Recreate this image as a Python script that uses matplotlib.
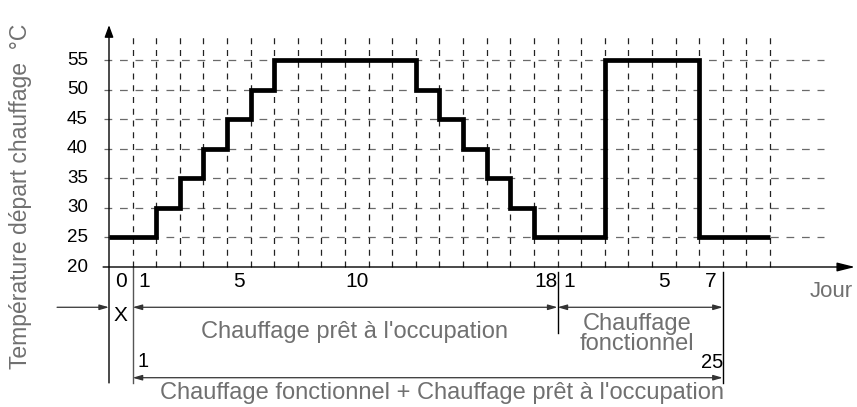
import numpy as np
import matplotlib.pyplot as plt

plt.rcParams["font.family"] = ["Liberation Sans", "DejaVu Sans"]

# température départ par palier : bornes des paliers (en cases de jour) et consigne
step_edges = [0, 2, 3, 4, 5, 6, 7, 13, 14, 15, 16, 17, 18, 21, 25, 28]
step_temps = [25, 30, 35, 40, 45, 50, 55, 50, 45, 40, 35, 30, 25, 55, 25]

temp_ticks = [20, 25, 30, 35, 40, 45, 50, 55]
grid_temps = [25, 30, 35, 40, 45, 50, 55]
grid_days = np.arange(1, 29)

# jours numérotés sous l'axe
ready_days = [1, 5, 10, 18]      # chauffage prêt à l'occupation (18 jours)
func_days = [1, 5, 7]            # chauffage fonctionnel (7 jours)

# limites des phases sur l'axe des jours
x_end = 1
ready_end = x_end + 18
func_end = ready_end + 7

gray = "#707070"

fig = plt.figure(figsize=(8.57, 4.07), dpi=100)
ax = fig.add_axes([0, 0, 1, 1])
# 1 jour = 23.6 px, 1 °C = 5.91 px, origine (0, 20) à 109 px / 267 px
ax.set_xlim(-109 / 23.607, (857 - 109) / 23.607)
ax.set_ylim(20 - (407 - 267) / 5.914, 20 + 267 / 5.914)
ax.axis("off")

# quadrillage pointillé
for t in grid_temps:
    ax.plot([-0.2, 30.3], [t, t], color="#6a6a6a", lw=0.9, dashes=(6.2, 6.2), zorder=1)
for d in grid_days:
    ax.plot([d, d], [20, 59.7], color="#222222", lw=0.9, dashes=(4.8, 4.6), zorder=1)

# courbe de consigne
ax.stairs(step_temps, step_edges, baseline=None, color="black", lw=3.4, zorder=3)

# axes avec flèches
ax.annotate("", xy=(0, 60.9), xytext=(0, 0.4),
            arrowprops=dict(arrowstyle="-|>,head_length=0.6,head_width=0.22",
                            mutation_scale=12, color="black", lw=1,
                            shrinkA=0, shrinkB=0))
ax.annotate("", xy=(31.6, 20), xytext=(-0.25, 20),
            arrowprops=dict(arrowstyle="-|>,head_length=0.6,head_width=0.15",
                            mutation_scale=18, color="black", lw=1,
                            shrinkA=0, shrinkB=0))

for t in temp_ticks:
    ax.text(-0.89, t, str(t), ha="right", va="center", fontsize=13.5)

ax.text(0.5, 16.62, "0", ha="center", va="baseline", fontsize=15)
for d in ready_days:
    ax.text(x_end + d - 0.5, 16.62, str(d), ha="center", va="baseline", fontsize=15)
for d in func_days:
    ax.text(ready_end + d - 0.5, 16.62, str(d), ha="center", va="baseline", fontsize=15)
ax.text(29.69, 14.93, "Jour", ha="left", va="baseline", fontsize=16, color=gray)

# séparations des phases
ax.plot([x_end, x_end], [20, 0.4], color="#555555", lw=1)
ax.plot([ready_end, ready_end], [19.15, 8.84], color="black", lw=1)
ax.plot([func_end, func_end], [19.15, 0.4], color="black", lw=1)


def span(x0, x1, y, style="<|-|>"):
    ax.annotate("", xy=(x1, y), xytext=(x0, y),
                arrowprops=dict(arrowstyle=style + ",head_length=0.7,head_width=0.2",
                                mutation_scale=8, color="#333333", lw=0.9,
                                shrinkA=0, shrinkB=0))


span(-2.2, 0, 13.19, "-|>")
span(x_end, ready_end, 13.19)
span(ready_end, func_end, 13.19)
span(x_end, func_end, 1.28)

ax.text(0.47, 11.88, "X", ha="center", va="center", fontsize=15)
ax.text((x_end + ready_end) / 2 + 0.38, 8.0, "Chauffage prêt à l'occupation",
        ha="center", va="baseline", fontsize=17, color=gray)
ax.text(22.37, 9.35, "Chauffage", ha="center", va="baseline", fontsize=17, color=gray)
ax.text(22.37, 5.97, "fonctionnel", ha="center", va="baseline", fontsize=17, color=gray)
ax.text(1.19, 3.09, "1", ha="left", va="baseline", fontsize=14.5)
ax.text(func_end, 2.92, "25", ha="right", va="baseline", fontsize=14.5)
ax.text(14.1, -2.32, "Chauffage fonctionnel + Chauffage prêt à l'occupation",
        ha="center", va="baseline", fontsize=17, color=gray)

ax.text(-3.73, 31.9, "Température départ chauffage  °C", rotation=90,
        ha="center", va="center", fontsize=16.5, color=gray)

fig.savefig("out.png", dpi=100)
